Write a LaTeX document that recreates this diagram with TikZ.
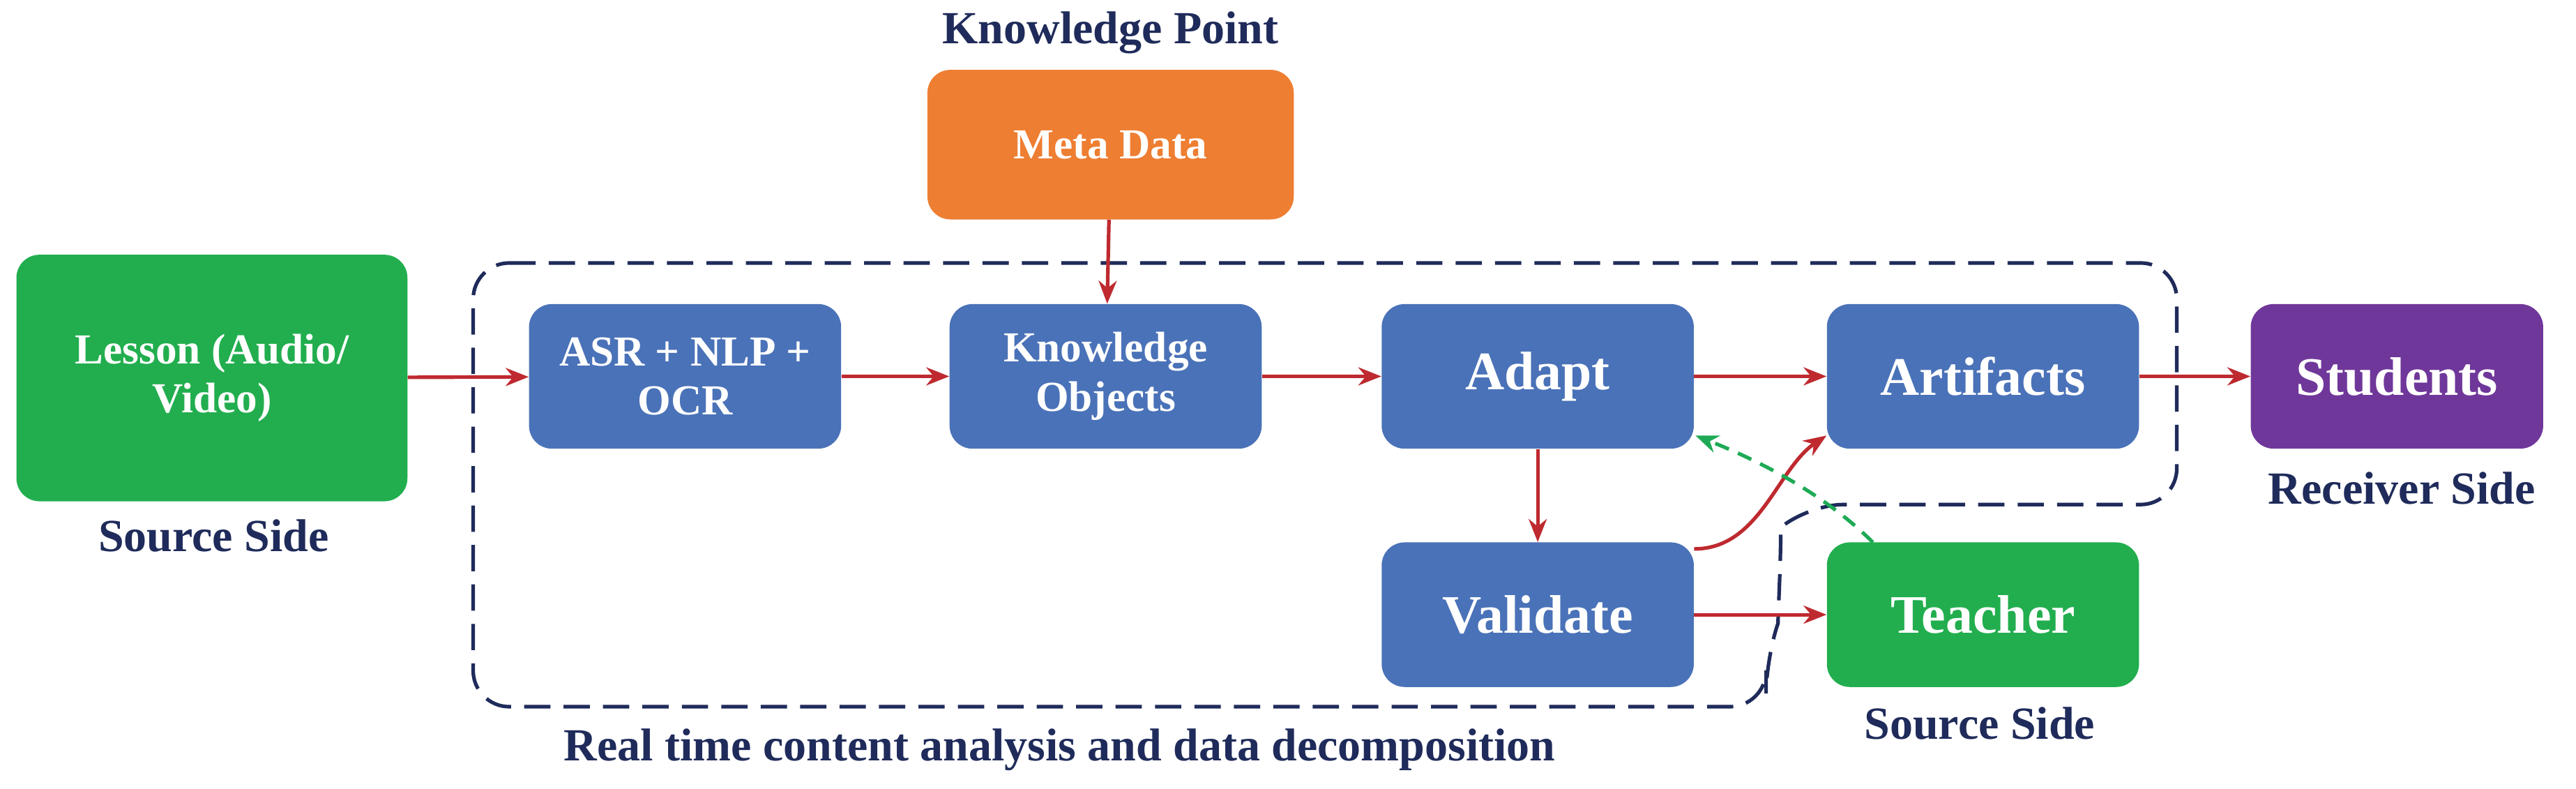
\documentclass[tikz,border=0pt]{standalone}
\usepackage{fontspec}
\setmainfont{Liberation Serif}
\usetikzlibrary{arrows.meta}
\definecolor{cg}{HTML}{22AE4E}
\definecolor{co}{HTML}{EE7E32}
\definecolor{cb}{HTML}{4A72B8}
\definecolor{cp}{HTML}{70379A}
\definecolor{cr}{HTML}{BE2A2F}
\definecolor{cn}{HTML}{1F2B5A}
\definecolor{cd}{HTML}{1EAA55}
\begin{document}
\begin{tikzpicture}[x=1pt,y=-1pt,
 box/.style={rounded corners=14pt,text=white,font=\fontsize{26}{30}\selectfont\bfseries,align=center,inner sep=0},
 big/.style={font=\fontsize{33}{36}\selectfont\bfseries},
 blue/.style={box,fill=cb,minimum width=190pt,minimum height=88pt},
 lab/.style={text=cn,font=\fontsize{28}{32}\selectfont\bfseries},
 arr/.style={cr,line width=2.2pt,-{Stealth[length=14pt,width=11pt]}}]
\useasboundingbox (0,0) rectangle (1568,480);
\draw[cn,line width=2.2pt,dash pattern=on 16pt off 8pt,rounded corners=22pt]
 (288,160) -- (1325,160) -- (1325,307) -- (1100,307) .. controls (1085,320) and (1082,380) .. (1075,400) -- (1075,430) -- (288,430) -- cycle;
\node[box,fill=cg,minimum width=238pt,minimum height=150pt] (les) at (129,230) {Lesson (Audio/\\Video)};
\node[box,fill=co,minimum width=223pt,minimum height=91pt] (meta) at (676,88) {Meta Data};
\node[blue] (asr) at (417,229) {ASR + NLP +\\OCR};
\node[blue] (ko) at (673,229) {Knowledge\\Objects};
\node[blue,big] (ad) at (936,229) {Adapt};
\node[blue,big] (art) at (1207,229) {Artifacts};
\node[box,fill=cp,minimum width=178pt,minimum height=88pt,big] (stu) at (1459,229) {Students};
\node[blue,big] (val) at (936,374) {Validate};
\node[box,fill=cg,minimum width=190pt,minimum height=88pt,big] (tea) at (1207,374) {Teacher};
\node[lab] (l1) at (676,20) {Knowledge Point};
\node[lab] (l2) at (130,326) {Source Side};
\node[lab] (l3) at (1462,297) {Receiver Side};
\node[lab] (l4) at (1205,440) {Source Side};
\node[lab] (l5) at (645,456) {Real time content analysis and data decomposition};
\draw[arr] (les) -- (asr);
\draw[arr] (asr) -- (ko);
\draw[arr] (meta) -- (ko);
\draw[arr] (ko) -- (ad);
\draw[arr] (ad) -- (art);
\draw[arr] (art) -- (stu);
\draw[arr] (ad) -- (val);
\draw[arr] (val) -- (tea);
\draw[arr] (val.east) ++(0,-40) coordinate (vs) .. controls +(40,0) and +(-30,20) .. (art.south west|-0,265);
\draw[cd,line width=2.2pt,dash pattern=on 9pt off 6pt,-{Stealth[length=14pt,width=11pt]}] (1140,330) .. controls (1110,300) and (1070,280) .. (1032,265);
\end{tikzpicture}
\end{document}
